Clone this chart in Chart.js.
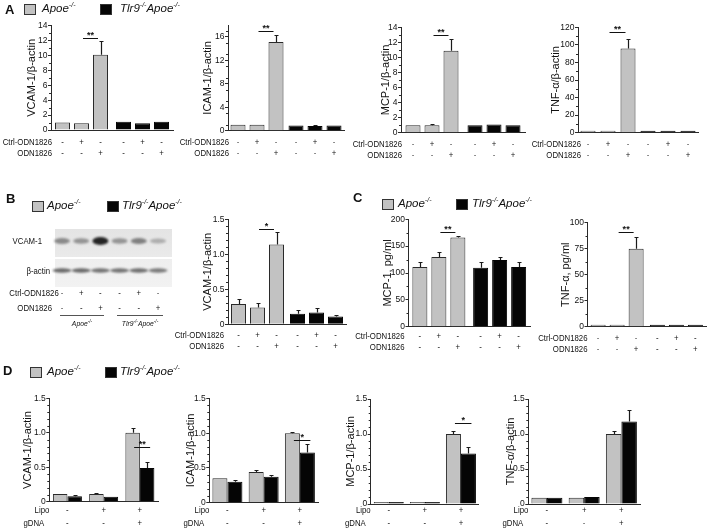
<!DOCTYPE html>
<html><head><meta charset="utf-8">
<script src="https://cdn.jsdelivr.net/npm/chart.js@4.4.0/dist/chart.umd.min.js"></script>
<style>
html,body{margin:0;padding:0;background:#fff;width:709px;height:530px;overflow:hidden;font-family:'Liberation Sans',Arial,Helvetica,sans-serif;color:#111}
#stage{position:relative;width:709px;height:530px}
canvas{position:absolute;left:0;top:0}
.abs{position:absolute;white-space:nowrap;line-height:1}
.letter{font-weight:bold;font-size:13px}
.leg{font-style:italic;font-size:11.5px}
.leg sup{font-size:7px;vertical-align:5px;line-height:0}
.box{position:absolute;width:12px;height:11px;box-sizing:border-box;border:1px solid #333}
.sm{font-size:9.5px;transform:scaleX(0.82);transform-origin:right center;text-align:right}
.grp{font-style:italic;font-size:8px;transform:translateX(-50%) scaleX(0.85)}
.grp sup{font-size:5.5px;vertical-align:3px;line-height:0}
</style>
</head><body>
<div id="stage">
  <canvas id="blot" width="709" height="530"></canvas>
  <canvas id="a1" width="709" height="530"></canvas>
  <canvas id="a2" width="709" height="530"></canvas>
  <canvas id="a3" width="709" height="530"></canvas>
  <canvas id="a4" width="709" height="530"></canvas>
  <canvas id="b1" width="709" height="530"></canvas>
  <canvas id="c1" width="709" height="530"></canvas>
  <canvas id="c2" width="709" height="530"></canvas>
  <canvas id="d1" width="709" height="530"></canvas>
  <canvas id="d2" width="709" height="530"></canvas>
  <canvas id="d3" width="709" height="530"></canvas>
  <canvas id="d4" width="709" height="530"></canvas>

  <div class="abs letter" style="left:5px;top:3px">A</div>
  <div class="box" style="left:24px;top:4px;background:#c2c2c2"></div>
  <div class="abs leg" style="left:42px;top:3px">Apoe<sup>-/-</sup></div>
  <div class="box" style="left:100px;top:4px;background:#050505"></div>
  <div class="abs leg" style="left:120px;top:3px">Tlr9<sup>-/-</sup>Apoe<sup>-/-</sup></div>

  <div class="abs letter" style="left:6px;top:192px">B</div>
  <div class="box" style="left:32px;top:201px;background:#c2c2c2"></div>
  <div class="abs leg" style="left:47px;top:200px">Apoe<sup>-/-</sup></div>
  <div class="box" style="left:107px;top:201px;background:#050505"></div>
  <div class="abs leg" style="left:122px;top:200px">Tlr9<sup>-/-</sup>Apoe<sup>-/-</sup></div>

  <div class="abs letter" style="left:353px;top:191px">C</div>
  <div class="box" style="left:382px;top:199px;background:#c2c2c2"></div>
  <div class="abs leg" style="left:398px;top:198px">Apoe<sup>-/-</sup></div>
  <div class="box" style="left:456px;top:199px;background:#050505"></div>
  <div class="abs leg" style="left:472px;top:198px">Tlr9<sup>-/-</sup>Apoe<sup>-/-</sup></div>

  <div class="abs letter" style="left:3px;top:364px">D</div>
  <div class="box" style="left:30px;top:367px;background:#c2c2c2"></div>
  <div class="abs leg" style="left:47px;top:366px">Apoe<sup>-/-</sup></div>
  <div class="box" style="left:105px;top:367px;background:#050505"></div>
  <div class="abs leg" style="left:120px;top:366px">Tlr9<sup>-/-</sup>Apoe<sup>-/-</sup></div>

  <div class="abs sm" style="left:0;width:42px;top:236px">VCAM-1</div>
  <div class="abs sm" style="left:0;width:50px;top:266px">β-actin</div>
  <div class="abs sm" style="left:0;width:52px;top:288px">Ctrl-ODN1826</div>
  <div class="abs sm" style="left:0;width:52px;top:303px">ODN1826</div>
  <div class="abs grp" style="left:82px;top:320px">Apoe<sup>-/-</sup></div>
  <div class="abs grp" style="left:140px;top:320px">Tlr9<sup>-/-</sup>Apoe<sup>-/-</sup></div>
</div>
<script>
// ---------------- DATA ----------------
const genotypes = ['Apoe-/-', 'Tlr9-/-Apoe-/-'];
const treatments = ['Vehicle', 'Ctrl-ODN1826', 'ODN1826'];
const ctrlOdnSigns = ['-', '+', '-'];
const odnSigns = ['-', '-', '+'];
const conditionsD = ['Vehicle', 'Lipo', 'Lipo + gDNA'];
const lipoSigns = ['-', '+', '+'];
const gdnaSigns = ['-', '-', '+'];

// Panel A: mRNA / β-actin (per treatment)
const aVcamApoe = [1.0, 0.9, 10.1];  const aVcamApoeErr = [0.1, 0.1, 1.9];
const aVcamTlr9 = [1.1, 0.9, 1.1];   const aVcamTlr9Err = [0.1, 0.05, 0.1];
const aIcamApoe = [1.0, 1.0, 15.1];  const aIcamApoeErr = [0.05, 0.05, 1.2];
const aIcamTlr9 = [0.9, 0.8, 0.9];   const aIcamTlr9Err = [0.05, 0.1, 0.05];
const aMcpApoe = [1.0, 1.0, 10.9];   const aMcpApoeErr = [0.05, 0.1, 1.6];
const aMcpTlr9 = [1.0, 1.1, 1.0];    const aMcpTlr9Err = [0.05, 0.1, 0.05];
const aTnfApoe = [0.8, 1.0, 96];     const aTnfApoeErr = [0.2, 0.3, 11];
const aTnfTlr9 = [0.6, 0.6, 0.6];    const aTnfTlr9Err = [0.1, 0.1, 0.1];
// Panel B: VCAM-1 protein / β-actin
const bVcamApoe = [0.29, 0.24, 1.14]; const bVcamApoeErr = [0.07, 0.07, 0.18];
const bVcamTlr9 = [0.15, 0.17, 0.11]; const bVcamTlr9Err = [0.06, 0.07, 0.02];
const blotVcam = [0.45, 0.40, 0.95, 0.40, 0.50, 0.28];
const blotActin = [0.62, 0.62, 0.58, 0.58, 0.60, 0.55];
// Panel C: secreted protein, pg/ml
const cMcpApoe = [111, 130, 166]; const cMcpApoeErr = [9, 9, 2];
const cMcpTlr9 = [110, 124, 111]; const cMcpTlr9Err = [10, 5, 9];
const cTnfApoe = [1, 1, 75];      const cTnfApoeErr = [0.3, 0.3, 11];
const cTnfTlr9 = [1, 1, 1];       const cTnfTlr9Err = [0.3, 0.3, 0.3];
// Panel D: per condition (Vehicle, Lipo, Lipo+gDNA)
const dVcamApoe = [0.11, 0.11, 1.00]; const dVcamApoeErr = [0.005, 0.02, 0.07];
const dVcamTlr9 = [0.08, 0.07, 0.49]; const dVcamTlr9Err = [0.02, 0.005, 0.09];
const dIcamApoe = [0.35, 0.44, 1.00]; const dIcamApoeErr = [0.01, 0.03, 0.02];
const dIcamTlr9 = [0.30, 0.37, 0.72]; const dIcamTlr9Err = [0.02, 0.02, 0.12];
const dMcpApoe = [0.01, 0.02, 1.00];  const dMcpApoeErr = [0, 0, 0.04];
const dMcpTlr9 = [0.01, 0.02, 0.72];  const dMcpTlr9Err = [0, 0, 0.09];
const dTnfApoe = [0.09, 0.09, 1.00];  const dTnfApoeErr = [0.005, 0.005, 0.04];
const dTnfTlr9 = [0.09, 0.10, 1.18];  const dTnfTlr9Err = [0.01, 0.01, 0.17];

// ---------------- STYLE ----------------
const FAMILY = "'Liberation Sans', Arial, Helvetica, sans-serif";
const GRAY = '#c2c2c2', EDGE = '#2a2a2a', BLACK = '#050505', AXIS = '#2a2a2a', INK = '#111';
const SQ = 0.82;
Chart.defaults.font.family = FAMILY;
Chart.defaults.color = INK;

function sqText(ctx, txt, x, y, align, size, weight) {
  ctx.save();
  ctx.font = (weight || 'normal') + ' ' + size + 'px ' + FAMILY;
  ctx.textAlign = align; ctx.textBaseline = 'middle';
  ctx.translate(x, y); ctx.scale(SQ, 1);
  ctx.fillText(txt, 0, 0);
  ctx.restore();
}

const annotById = {};
const annotPlugin = {
  id: 'annot',
  afterDatasetsDraw(chart) {
    const a = annotById[chart.canvas.id]; if (!a) return;
    const ctx = chart.ctx, ys = chart.scales.y, xs = chart.scales.x, ca = chart.chartArea;
    ctx.save();
    ctx.strokeStyle = AXIS; ctx.fillStyle = INK; ctx.lineWidth = 1;
    // minor ticks
    const n = Math.round((ys.max - ys.min) / a.minor);
    for (let k = 1; k < n; k++) {
      const v = ys.min + k * a.minor, r = v / a.major;
      if (Math.abs(r - Math.round(r)) < 1e-6) continue;
      const py = Math.round(ys.getPixelForValue(v)) + 0.5;
      ctx.beginPath(); ctx.moveTo(ca.left, py); ctx.lineTo(ca.left - 2, py); ctx.stroke();
    }
    // error bars (upper)
    ctx.lineWidth = 1.2; ctx.strokeStyle = '#1a1a1a';
    chart.data.datasets.forEach((ds, di) => {
      const meta = chart.getDatasetMeta(di);
      ds.errors.forEach((e, i) => {
        if (!(e > 0)) return;
        const el = meta.data[i];
        const x = Math.round(el.x) + 0.5;
        const y0 = Math.min(el.y, ys.getPixelForValue(ds.data[i]));
        const y1 = Math.round(ys.getPixelForValue(ds.data[i] + e)) + 0.5;
        if (y1 >= y0 - 0.5) return;
        ctx.beginPath(); ctx.moveTo(x, y0); ctx.lineTo(x, y1);
        ctx.moveTo(x - 2, y1); ctx.lineTo(x + 2, y1); ctx.stroke();
      });
    });
    // significance bar
    if (a.sig) {
      const s = a.sig;
      const e1 = chart.getDatasetMeta(s.from[0]).data[s.from[1]];
      const e2 = chart.getDatasetMeta(s.to[0]).data[s.to[1]];
      const py = Math.round(ys.getPixelForValue(s.value)) + 0.5;
      const x1 = e1.x + s.in0, x2 = e2.x + s.in1;
      ctx.lineWidth = 1; ctx.strokeStyle = INK;
      ctx.beginPath(); ctx.moveTo(x1, py); ctx.lineTo(x2, py); ctx.stroke();
      ctx.font = 'bold 9px ' + FAMILY; ctx.textAlign = 'center'; ctx.textBaseline = 'alphabetic';
      ctx.fillText(s.text, (x1 + x2) / 2, py - 1);
    }
    // treatment rows
    a.rows.forEach(row => {
      sqText(ctx, row.label, ca.left + row.dx, row.y, 'right', 9.5);
      if (a.perBar) {
        chart.data.datasets.forEach((ds, di) => {
          chart.getDatasetMeta(di).data.forEach(el => {
            sqText(ctx, row.signs[di], el.x, row.y, 'center', 9.5);
          });
        });
      } else {
        row.signs.forEach((sg, i) => sqText(ctx, sg, xs.getPixelForValue(i), row.y, 'center', 9.5));
      }
    });
    ctx.restore();
  }
};
Chart.register(annotPlugin);

function tickFmt1(v) { return v === 0 ? '0' : v.toFixed(1); }

function makeChart(id, box, cfg) {
  const W = box.l - box.titleX + 10.6;
  const nLab = cfg.labels.length, nDs = cfg.datasets.length;
  const catW = (box.r - box.l) / nLab;
  const catPct = cfg.slot * nDs / catW;
  const barPct = Math.min(1, cfg.barW / cfg.slot);
  annotById[id] = cfg.annot;
  cfg.datasets.forEach(d => {
    d.categoryPercentage = catPct; d.barPercentage = barPct; d.borderWidth = 1; d.minBarLength = 2;
  });
  return new Chart(document.getElementById(id), {
    type: 'bar',
    data: { labels: cfg.labels, datasets: cfg.datasets },
    options: {
      responsive: false, animation: false, devicePixelRatio: 1,
      layout: { padding: { left: box.l - W, top: box.t, right: 709 - box.r, bottom: 530 - box.b } },
      plugins: { legend: { display: false }, tooltip: { enabled: false } },
      scales: {
        x: {
          offset: true,
          ticks: { display: false },
          grid: { display: true, drawOnChartArea: false, drawTicks: false },
          border: { color: AXIS, width: 1 },
          afterFit(s) { s.height = 0; }
        },
        y: {
          min: 0, max: cfg.max,
          ticks: { stepSize: cfg.step, font: { size: 8.5 }, color: INK, padding: 0.5, callback: cfg.fmt || (v => v) },
          grid: { drawOnChartArea: false, drawTicks: true, tickLength: 3, color: AXIS },
          border: { color: AXIS, width: 1 },
          title: { display: true, text: cfg.title, font: { size: 11 }, color: INK, padding: { top: 4, bottom: 0 } },
          afterFit(s) { s.width = W; }
        }
      }
    }
  });
}

// datasets for A/B/C: one dataset per treatment, categories = genotypes
function byTreatment(apoe, apoeErr, tlr9, tlr9Err) {
  return treatments.map((t, j) => ({
    label: t, data: [apoe[j], tlr9[j]], errors: [apoeErr[j], tlr9Err[j]],
    backgroundColor: [GRAY, BLACK], borderColor: [EDGE, BLACK]
  }));
}
// datasets for D: one dataset per genotype, categories = conditions
function byGenotype(apoe, apoeErr, tlr9, tlr9Err) {
  return [
    { label: genotypes[0], data: apoe, errors: apoeErr, backgroundColor: GRAY, borderColor: EDGE },
    { label: genotypes[1], data: tlr9, errors: tlr9Err, backgroundColor: BLACK, borderColor: BLACK }
  ];
}
function rowsAC(y1, y2, dx) {
  return [{ label: 'Ctrl-ODN1826', signs: ctrlOdnSigns, y: y1, dx: dx },
          { label: 'ODN1826', signs: odnSigns, y: y2, dx: dx }];
}
function sigAC(value, text) { return { from: [1, 0], to: [2, 0], value: value, text: text, in0: 1.5, in1: -2.5 }; }
function sigD(value, text) { return { from: [0, 2], to: [1, 2], value: value, text: text, in0: 1.5, in1: 3 }; }
const rowsD = [{ label: 'Lipo', signs: lipoSigns, y: 510, dx: 0 },
               { label: 'gDNA', signs: gdnaSigns, y: 523, dx: -5 }];

// ---- Panel A ----
makeChart('a1', { l: 51, t: 25.7, r: 173, b: 130, titleX: 32 }, {
  labels: genotypes, datasets: byTreatment(aVcamApoe, aVcamApoeErr, aVcamTlr9, aVcamTlr9Err),
  max: 14, step: 2, title: 'VCAM-1/β-actin', slot: 19, barW: 15,
  annot: { minor: 1, major: 2, perBar: true, sig: sigAC(12.4, '**'), rows: rowsAC(142.7, 153.3, 1) }
});
makeChart('a2', { l: 228, t: 25, r: 344, b: 130.7, titleX: 208 }, {
  labels: genotypes, datasets: byTreatment(aIcamApoe, aIcamApoeErr, aIcamTlr9, aIcamTlr9Err),
  max: 18, step: 2, title: 'ICAM-1/β-actin', slot: 19, barW: 15,
  annot: { minor: 1, major: 2, perBar: true, sig: sigAC(16.9, '**'), rows: rowsAC(142.7, 153.3, 1) }
});
makeChart('a3', { l: 401, t: 27.3, r: 525, b: 132.7, titleX: 386 }, {
  labels: genotypes, datasets: byTreatment(aMcpApoe, aMcpApoeErr, aMcpTlr9, aMcpTlr9Err),
  max: 14, step: 2, title: 'MCP-1/β-actin', slot: 19, barW: 15,
  annot: { minor: 1, major: 2, perBar: true, sig: sigAC(13.0, '**'), rows: rowsAC(144.3, 155, 1) }
});
makeChart('a4', { l: 578, t: 27.3, r: 698, b: 132.7, titleX: 556 }, {
  labels: genotypes, datasets: byTreatment(aTnfApoe, aTnfApoeErr, aTnfTlr9, aTnfTlr9Err),
  max: 120, step: 20, title: 'TNF-α/β-actin', slot: 20, barW: 15,
  annot: { minor: 10, major: 20, perBar: true, sig: sigAC(115, '**'), rows: rowsAC(144.3, 155, 3) }
});
// ---- Panel B ----
makeChart('b1', { l: 228, t: 219.3, r: 346, b: 324.3, titleX: 208 }, {
  labels: genotypes, datasets: byTreatment(bVcamApoe, bVcamApoeErr, bVcamTlr9, bVcamTlr9Err),
  max: 1.5, step: 0.5, fmt: tickFmt1, title: 'VCAM-1/β-actin', slot: 19, barW: 15,
  annot: { minor: 0.1, major: 0.5, perBar: true, sig: sigAC(1.36, '*'), rows: rowsAC(335.7, 346.5, -4) }
});
// ---- Panel C ----
makeChart('c1', { l: 408.5, t: 219.3, r: 530, b: 326.7, titleX: 388 }, {
  labels: genotypes, datasets: byTreatment(cMcpApoe, cMcpApoeErr, cMcpTlr9, cMcpTlr9Err),
  max: 200, step: 50, title: 'MCP-1, pg/ml', slot: 19, barW: 15,
  annot: { minor: 25, major: 50, perBar: true, sig: sigAC(176, '**'), rows: rowsAC(336.7, 347, -4) }
});
makeChart('c2', { l: 587.5, t: 222.7, r: 706, b: 326.7, titleX: 566 }, {
  labels: genotypes, datasets: byTreatment(cTnfApoe, cTnfApoeErr, cTnfTlr9, cTnfTlr9Err),
  max: 100, step: 25, title: 'TNF-α, pg/ml', slot: 19, barW: 15,
  annot: { minor: 12.5, major: 25, perBar: true, sig: sigAC(91, '**'), rows: rowsAC(338.3, 349, 0) }
});
// ---- Panel D ----
makeChart('d1', { l: 49.3, t: 398.3, r: 158, b: 501.7, titleX: 28 }, {
  labels: conditionsD, datasets: byGenotype(dVcamApoe, dVcamApoeErr, dVcamTlr9, dVcamTlr9Err),
  max: 1.5, step: 0.5, fmt: tickFmt1, title: 'VCAM-1/β-actin', slot: 14.5, barW: 14.5,
  annot: { minor: 0.1, major: 0.5, perBar: false, sig: sigD(0.80, '**'), rows: rowsD }
});
makeChart('d2', { l: 209.3, t: 398.5, r: 318, b: 502.5, titleX: 191 }, {
  labels: conditionsD, datasets: byGenotype(dIcamApoe, dIcamApoeErr, dIcamTlr9, dIcamTlr9Err),
  max: 1.5, step: 0.5, fmt: tickFmt1, title: 'ICAM-1/β-actin', slot: 15, barW: 15,
  annot: { minor: 0.1, major: 0.5, perBar: false, sig: sigD(0.90, '*'), rows: rowsD }
});
makeChart('d3', { l: 370.7, t: 399, r: 479, b: 504, titleX: 351 }, {
  labels: conditionsD, datasets: byGenotype(dMcpApoe, dMcpApoeErr, dMcpTlr9, dMcpTlr9Err),
  max: 1.5, step: 0.5, fmt: tickFmt1, title: 'MCP-1/β-actin', slot: 15, barW: 15,
  annot: { minor: 0.1, major: 0.5, perBar: false, sig: sigD(1.16, '*'), rows: rowsD }
});
makeChart('d4', { l: 528.3, t: 399, r: 640, b: 504, titleX: 511 }, {
  labels: conditionsD, datasets: byGenotype(dTnfApoe, dTnfApoeErr, dTnfTlr9, dTnfTlr9Err),
  max: 1.5, step: 0.5, fmt: tickFmt1, title: 'TNF-α/β-actin', slot: 15.5, barW: 15.5,
  annot: { minor: 0.1, major: 0.5, perBar: false, sig: null, rows: rowsD }
});

// ---- Western blot image (panel B) ----
(function drawBlot() {
  const ctx = document.getElementById('blot').getContext('2d');
  const x0 = 55, w = 117, lane0 = 62, laneStep = 19.2;
  let g = ctx.createLinearGradient(0, 229, 0, 257);
  g.addColorStop(0, '#e4e4e4'); g.addColorStop(1, '#eaeaea');
  ctx.fillStyle = g; ctx.fillRect(x0, 229, w, 28);
  g = ctx.createLinearGradient(0, 259, 0, 287);
  g.addColorStop(0, '#eeeeee'); g.addColorStop(1, '#f2f2f2');
  ctx.fillStyle = g; ctx.fillRect(x0, 259, w, 28);
  ctx.filter = 'blur(1.3px)';
  blotVcam.forEach((v, i) => {
    const cx = lane0 + i * laneStep;
    ctx.fillStyle = 'rgba(25,25,25,' + v + ')';
    ctx.beginPath(); ctx.ellipse(cx, 241, 8, 2 + v * 2, 0, 0, Math.PI * 2); ctx.fill();
  });
  blotActin.forEach((v, i) => {
    const cx = lane0 + i * laneStep;
    ctx.fillStyle = 'rgba(25,25,25,' + v + ')';
    ctx.beginPath(); ctx.ellipse(cx, 270.5, 9.5, 2.2, 0, 0, Math.PI * 2); ctx.fill();
  });
  ctx.filter = 'none';
  ctx.fillStyle = INK;
  for (let i = 0; i < 6; i++) {
    const cx = lane0 + i * laneStep;
    sqText(ctx, ctrlOdnSigns[i % 3], cx, 293, 'center', 9.5);
    sqText(ctx, odnSigns[i % 3], cx, 308, 'center', 9.5);
  }
  ctx.strokeStyle = '#555'; ctx.lineWidth = 1;
  ctx.beginPath(); ctx.moveTo(60, 315.5); ctx.lineTo(104, 315.5);
  ctx.moveTo(117, 315.5); ctx.lineTo(163, 315.5); ctx.stroke();
})();
</script>
</body></html>
